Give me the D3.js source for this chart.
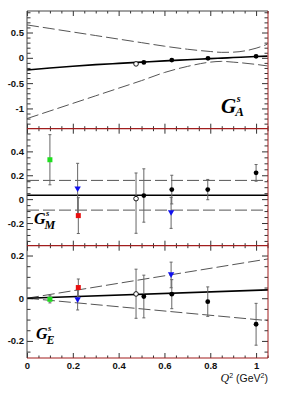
<!DOCTYPE html>
<html><head><meta charset="utf-8">
<script src="https://cdn.jsdelivr.net/npm/d3@7/dist/d3.min.js"></script>
<style>body{margin:0;background:#fff}svg{display:block}</style>
</head><body>
<svg id="c" width="298" height="399"></svg>
<script>
// ---- data ----
const qGrid = [0, 0.1, 0.2, 0.3, 0.4, 0.5, 0.6, 0.7, 0.8, 0.85, 0.9, 1.0, 1.05];
const gaCentral = [-0.24, -0.20, -0.165, -0.135, -0.11, -0.085, -0.06, -0.038, -0.015, -0.005, 0.005, 0.025, 0.033];
const gaUpper = [0.65, 0.58, 0.51, 0.44, 0.37, 0.30, 0.23, 0.17, 0.125, 0.108, 0.112, 0.19, 0.27];
const gaLower = [-1.20, -1.05, -0.90, -0.75, -0.60, -0.45, -0.29, -0.17, -0.085, -0.07, -0.085, -0.13, -0.16];

const qLine = [0, 1.052];
const gmCentral = [0.032, 0.032];
const gmUpper = [0.157, 0.157];
const gmLower = [-0.092, -0.092];
const geCentral = [0, 0.039];
const geUpper = [0, 0.184];
const geLower = [0, -0.105];

// points: q, value, error up, error down, marker type
const gaQ    = [0.476, 0.51, 0.632, 0.79, 1.0];
const gaVal  = [-0.12, -0.09, -0.045, -0.01, 0.03];
const gaErrU = [0.02, 0.02, 0.02, 0.02, 0.02];
const gaErrD = [0.02, 0.02, 0.02, 0.02, 0.02];
const gaType = ["open", "filled", "filled", "filled", "filled"];

const gmQ    = [0.10, 0.221, 0.224, 0.476, 0.51, 0.632, 0.629, 0.789, 1.0];
const gmVal  = [0.33, 0.085, -0.138, 0.004, 0.03, 0.08, -0.115, 0.08, 0.22];
const gmErrU = [0.21, 0.215, 0.15, 0.215, 0.224, 0.12, 0.13, 0.085, 0.07];
const gmErrD = [0.21, 0.215, 0.15, 0.29, 0.223, 0.12, 0.13, 0.085, 0.07];
const gmType = ["green", "blue", "red", "open", "filled", "filled", "blue", "filled", "filled"];

const geQ    = [0.10, 0.224, 0.221, 0.476, 0.51, 0.629, 0.632, 0.789, 1.0];
const geVal  = [-0.005, 0.05, -0.008, 0.02, 0.008, 0.109, 0.019, -0.016, -0.122];
const geErrU = [0.017, 0.04, 0.047, 0.116, 0.1, 0.06, 0.068, 0.069, 0.098];
const geErrD = [0.017, 0.04, 0.047, 0.114, 0.1, 0.06, 0.068, 0.069, 0.098];
const geType = ["green", "red", "blue", "open", "filled", "blue", "filled", "filled", "filled"];

const xMajor = [0, 0.2, 0.4, 0.6, 0.8, 1.0];
const xLabels = ["0", "0.2", "0.4", "0.6", "0.8", "1"];
const gaMajor = [-1, -0.5, 0, 0.5];
const gaLabels = ["-1", "-0.5", "0", "0.5"];
const gmMajor = [-0.2, 0, 0.2, 0.4];
const gmLabels = ["-0.2", "0", "0.2", "0.4"];
const geMajor = [-0.2, 0, 0.2];
const geLabels = ["-0.2", "0", "0.2"];

// ---- layout ----
const svg = d3.select("#c");
const L = 27, R = 268;
const x = d3.scaleLinear().domain([0, 1.052]).range([L, R]);
const panels = [
  {top: 11, bot: 128.7, dom: [-1.40, 0.925], major: gaMajor, labels: gaLabels, minorStep: 0.1,
   c: gaCentral, u: gaUpper, l: gaLower, lq: qGrid, curve: d3.curveMonotoneX,
   pq: gaQ, pv: gaVal, pu: gaErrU, pd: gaErrD, pt: gaType},
  {top: 128.7, bot: 245.7, dom: [-0.39, 0.59], major: gmMajor, labels: gmLabels, minorStep: 0.05,
   c: gmCentral, u: gmUpper, l: gmLower, lq: qLine, curve: d3.curveLinear,
   pq: gmQ, pv: gmVal, pu: gmErrU, pd: gmErrD, pt: gmType},
  {top: 245.7, bot: 358, dom: [-0.28, 0.246], major: geMajor, labels: geLabels, minorStep: 0.05,
   c: geCentral, u: geUpper, l: geLower, lq: qLine, curve: d3.curveLinear,
   pq: geQ, pv: geVal, pu: geErrU, pd: geErrD, pt: geType}
];
const xMinor = d3.range(0, 1.051, 0.05).filter(v => !xMajor.some(m => Math.abs(m - v) < 1e-6));
const tickCol = "#333", redCol = "#a11d1d";
const fontAx = "'Liberation Sans', Arial, sans-serif";

panels.forEach((p, i) => {
  const y = d3.scaleLinear().domain(p.dom).range([p.bot, p.top]);
  const g = svg.append("g");
  const yMinor = d3.range(Math.ceil(p.dom[0] / p.minorStep) * p.minorStep, p.dom[1] + 1e-9, p.minorStep)
    .map(v => +v.toFixed(4)).filter(v => !p.major.some(m => Math.abs(m - v) < 1e-6));

  g.append("g").attr("transform", `translate(${L},0)`)
    .call(d3.axisLeft(y).tickValues(p.major).tickSizeInner(-6).tickSizeOuter(0).tickPadding(3)
      .tickFormat((d, k) => p.labels[k]));
  g.append("g").attr("transform", `translate(${L},0)`)
    .call(d3.axisLeft(y).tickValues(yMinor).tickSizeInner(-3.5).tickSizeOuter(0).tickFormat(""));
  g.append("g").attr("transform", `translate(${R},0)`)
    .call(d3.axisRight(y).tickValues(p.major).tickSizeInner(-6).tickSizeOuter(0).tickFormat(""));
  g.append("g").attr("transform", `translate(${R},0)`)
    .call(d3.axisRight(y).tickValues(yMinor).tickSizeInner(-3.5).tickSizeOuter(0).tickFormat(""));
  g.append("g").attr("transform", `translate(0,${p.top})`)
    .call(d3.axisTop(x).tickValues(xMajor).tickSizeInner(-5).tickSizeOuter(0).tickFormat(""));
  g.append("g").attr("transform", `translate(0,${p.top})`)
    .call(d3.axisTop(x).tickValues(xMinor).tickSizeInner(-2.5).tickSizeOuter(0).tickFormat(""));
  g.append("g").attr("transform", `translate(0,${p.bot})`)
    .call(d3.axisBottom(x).tickValues(xMajor).tickSizeInner(-5).tickSizeOuter(0).tickPadding(4)
      .tickFormat((d, k) => i === 2 ? xLabels[k] : ""));
  g.append("g").attr("transform", `translate(0,${p.bot})`)
    .call(d3.axisBottom(x).tickValues(xMinor).tickSizeInner(-2.5).tickSizeOuter(0).tickFormat(""));

  g.selectAll(".tick line").attr("stroke", tickCol);
  g.selectAll(".domain").attr("stroke", "none");
  g.selectAll("text").attr("font-family", fontAx).attr("font-weight", "bold")
    .attr("font-size", "9.5px").attr("fill", "#111");

  const line = d3.line().x((d, k) => x(p.lq[k])).y(d => y(d)).curve(p.curve);
  g.append("path").attr("d", line(p.u)).attr("fill", "none").attr("stroke", "#555")
    .attr("stroke-width", 1).attr("stroke-dasharray", "12,4");
  g.append("path").attr("d", line(p.l)).attr("fill", "none").attr("stroke", "#555")
    .attr("stroke-width", 1).attr("stroke-dasharray", "12,4");
  g.append("path").attr("d", line(p.c)).attr("fill", "none").attr("stroke", "#000")
    .attr("stroke-width", 1.6);

  p.pq.forEach((q, k) => {
    const cx = x(q), y1 = y(p.pv[k] + p.pu[k]), y2 = y(p.pv[k] - p.pd[k]);
    g.append("line").attr("x1", cx).attr("x2", cx).attr("y1", y1).attr("y2", y2)
      .attr("stroke", "#666").attr("stroke-width", 1);
    [y1, y2].forEach(yy => g.append("line").attr("x1", cx - 1.5).attr("x2", cx + 1.5)
      .attr("y1", yy).attr("y2", yy).attr("stroke", "#666").attr("stroke-width", 1));
  });
  p.pq.forEach((q, k) => {
    const cx = x(q), cy = y(p.pv[k]), t = p.pt[k];
    if (t === "filled") g.append("circle").attr("cx", cx).attr("cy", cy).attr("r", 2.4).attr("fill", "#000");
    else if (t === "open") g.append("circle").attr("cx", cx).attr("cy", cy).attr("r", 2.3)
      .attr("fill", "#fff").attr("stroke", "#000").attr("stroke-width", 0.9);
    else if (t === "green" || t === "red") g.append("rect").attr("x", cx - 2.5).attr("y", cy - 2.5)
      .attr("width", 5).attr("height", 5).attr("fill", t === "green" ? "#1ee01e" : "#e81010");
    else if (t === "blue") g.append("path")
      .attr("d", `M${cx - 3.2},${cy - 2.6}L${cx + 3.2},${cy - 2.6}L${cx},${cy + 3}Z`).attr("fill", "#1010f0");
  });
});

svg.append("line").attr("x1", L).attr("x2", L).attr("y1", 11).attr("y2", 358).attr("stroke", "#444").attr("stroke-width", 1);
svg.append("line").attr("x1", L).attr("x2", R).attr("y1", 11).attr("y2", 11).attr("stroke", "#444").attr("stroke-width", 1);
svg.append("line").attr("x1", R).attr("x2", R).attr("y1", 11).attr("y2", 358).attr("stroke", redCol).attr("stroke-width", 1);
[128.7, 245.7, 358].forEach(yy => svg.append("line").attr("x1", L).attr("x2", R)
  .attr("y1", yy).attr("y2", yy).attr("stroke", redCol).attr("stroke-width", 1.2));

// panel labels: G, superscript s, subscript
const serif = "'Liberation Serif', 'Times New Roman', serif";
function glabel(xx, yy, size, sSize, subSize, sub, sUp, subDown) {
  const mk = (tx, ty, fs, str) => svg.append("text").attr("x", tx).attr("y", ty)
    .attr("font-family", serif).attr("font-weight", "bold").attr("font-style", "italic")
    .attr("font-size", fs + "px").attr("fill", "#000").text(str);
  const gT = mk(xx, yy, size, "G");
  const w = gT.node().getComputedTextLength();
  mk(xx + w + 0.5, yy - sUp, sSize, "s");
  mk(xx + w - 1, yy + subDown, subSize, sub);
}
glabel(221, 113, 21, 10, 13, "A", 11.5, 3);
glabel(34, 224, 16, 8.5, 12, "M", 8.5, 4.5);
glabel(36, 339, 16, 8.5, 12, "E", 8.5, 4.5);

// x title
const xt = svg.append("text").attr("x", 268).attr("y", 382).attr("text-anchor", "end")
  .attr("font-family", fontAx).attr("font-size", "10.5px").attr("fill", "#111");
xt.append("tspan").attr("font-family", serif).attr("font-style", "italic").attr("font-size", "12px").text("Q");
xt.append("tspan").attr("dy", -4.5).attr("font-size", "7px").text("2");
xt.append("tspan").attr("dy", 4.5).text(" (GeV");
xt.append("tspan").attr("dy", -4.5).attr("font-size", "7px").text("2");
xt.append("tspan").attr("dy", 4.5).text(")");
</script>
</body></html>
